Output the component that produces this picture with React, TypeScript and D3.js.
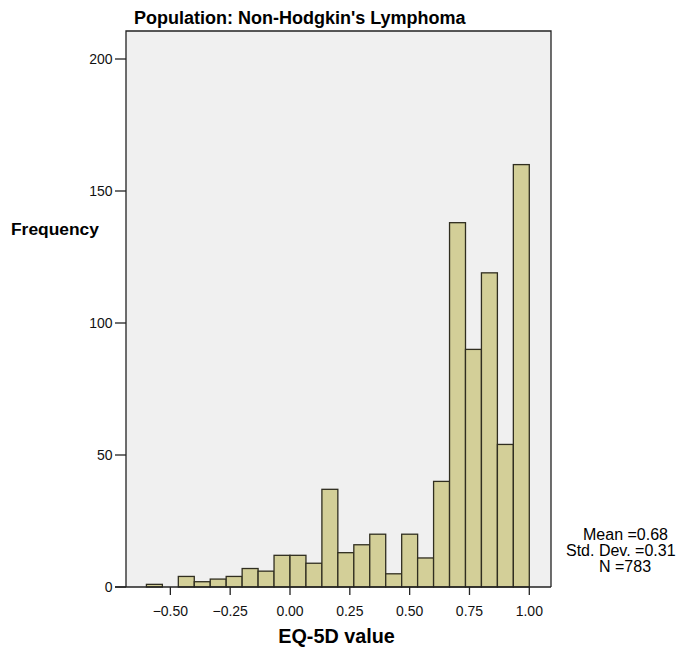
import React from "react";
import * as d3 from "d3";

const binWidth = 1 / 15;
const binLower = [
  -0.6, -0.5333, -0.4667, -0.4, -0.3333, -0.2667, -0.2, -0.1333, -0.0667, 0.0, 0.0667, 0.1333,
  0.2, 0.2667, 0.3333, 0.4, 0.4667, 0.5333, 0.6, 0.6667, 0.7333, 0.8, 0.8667, 0.9333,
];
const counts = [1, 0, 4, 2, 3, 4, 7, 6, 12, 12, 9, 37, 13, 16, 20, 5, 20, 11, 40, 138, 90, 119, 54, 160];
const xTicks = [-0.5, -0.25, 0, 0.25, 0.5, 0.75, 1.0];
const yTicks = [0, 50, 100, 150, 200];
const statsLines = ["Mean =0.68", "Std. Dev. =0.31", "N =783"];

const W = 685;
const H = 659;
const left = 126;
const right = 551;
const top = 31;
const bottom = 587;

export default function App() {
  const x = d3.scaleLinear().domain([0, 1]).range([290, 529.3]);
  const y = d3.scaleLinear().domain([0, 200]).range([bottom, 59]);
  const font = "'Liberation Sans', Arial, sans-serif";
  const fmt = d3.format(".2f");
  const statsX = [583, 566, 599];
  const statsY = [540, 556, 572];
  return (
    <svg width={W} height={H} style={{ position: "absolute", left: 0, top: 0 }} fontFamily={font}>
      <rect x={0} y={0} width={W} height={H} fill="#ffffff" />
      <text x={134} y={24} fontSize={18} fontWeight="bold" fill="#000">
        Population: Non-Hodgkin's Lymphoma
      </text>
      <rect x={left} y={top} width={right - left} height={bottom - top} fill="#f0f0f0" />
      {binLower.map((b, i) =>
        counts[i] > 0 ? (
          <rect
            key={i}
            x={x(b)}
            y={y(counts[i])}
            width={x(b + binWidth) - x(b)}
            height={y(0) - y(counts[i])}
            fill="#d3cf98"
            stroke="#302e20"
            strokeWidth={1.3}
          />
        ) : null
      )}
      <path
        d={`M${left},${bottom} V${top} H${right} V${bottom}`}
        fill="none"
        stroke="#222"
        strokeWidth={1.3}
      />
      <line x1={115} x2={right} y1={bottom} y2={bottom} stroke="#222" strokeWidth={1.3} />
      {yTicks.map((t) => (
        <g key={t}>
          <line x1={115} x2={left} y1={y(t)} y2={y(t)} stroke="#222" strokeWidth={1.3} />
          <text x={112.5} y={y(t)} dy="0.36em" textAnchor="end" fontSize={14} fill="#111">
            {t}
          </text>
        </g>
      ))}
      {xTicks.map((t) => (
        <g key={t}>
          <line x1={x(t)} x2={x(t)} y1={bottom} y2={bottom + 8} stroke="#222" strokeWidth={1.3} />
          <text x={x(t)} y={616} textAnchor="middle" fontSize={14} fill="#111">
            {fmt(t)}
          </text>
        </g>
      ))}
      <text x={11} y={235} fontSize={17.4} fontWeight="bold" fill="#000">
        Frequency
      </text>
      <text x={336.5} y={643} textAnchor="middle" fontSize={19.8} fontWeight="bold" fill="#000">
        EQ-5D value
      </text>
      {statsLines.map((s, i) => (
        <text key={s} x={statsX[i]} y={statsY[i]} fontSize={16} fill="#000">
          {s}
        </text>
      ))}
    </svg>
  );
}
